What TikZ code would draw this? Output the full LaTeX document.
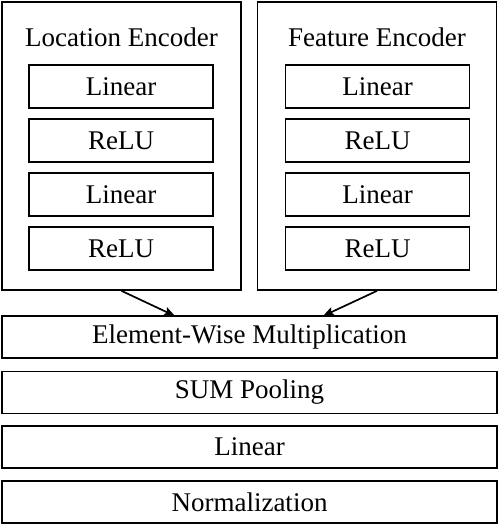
\documentclass[tikz,border=0pt]{standalone}
\usepackage{fontspec}
\setmainfont{Liberation Serif}
\usepackage{tikz}
\usetikzlibrary{arrows.meta}
\tikzset{every path/.style={black,line width=1.7pt}, every node/.style={inner sep=0pt, font=\fontsize{27}{32}\selectfont},
  outerbox/.style={draw, minimum width=239pt, minimum height=288pt},
  layerbox/.style={draw, minimum width=184pt, minimum height=43pt},
  widebox/.style={draw, minimum width=495pt, minimum height=42pt}}

\begin{document}
\begin{tikzpicture}[x=1pt,y=-1pt]
   \useasboundingbox (0,0) rectangle (499,526);
   \node[outerbox] (lenc) at (121.5,146) {};
   \node[outerbox] (renc) at (377.0,146) {};
   \node (ltitle) at (121.5,37.5) {Location Encoder};
   \node (rtitle) at (377.0,37.5) {Feature Encoder};

   \node[layerbox] (l1) at (121.0, 86.5) {Linear};
   \node[layerbox] (l2) at (121.0,140.5) {ReLU};
   \node[layerbox] (l3) at (121.0,194.5) {Linear};
   \node[layerbox] (l4) at (121.0,248.5) {ReLU};
   \node[layerbox] (r1) at (377.5, 86.5) {Linear};
   \node[layerbox] (r2) at (377.5,140.5) {ReLU};
   \node[layerbox] (r3) at (377.5,194.5) {Linear};
   \node[layerbox] (r4) at (377.5,248.5) {ReLU};

   \node[widebox] (mult) at (249.5,337.0) {Element-Wise Multiplication};
   \node[widebox] (pool) at (249.5,392.5) {SUM Pooling};
   \node[widebox] (lin)  at (249.5,447.0) {Linear};
   \node[widebox] (norm) at (249.5,502.0) {Normalization};

   \coordinate (mleft)  at (175,316);
   \coordinate (mright) at (323,316);
   \draw[-{Stealth[length=11pt,width=9pt,inset=2pt]}] (lenc.south) -- (mleft);
   \draw[-{Stealth[length=11pt,width=9pt,inset=2pt]}] (renc.south) -- (mright);
  \end{tikzpicture}
\end{document}
